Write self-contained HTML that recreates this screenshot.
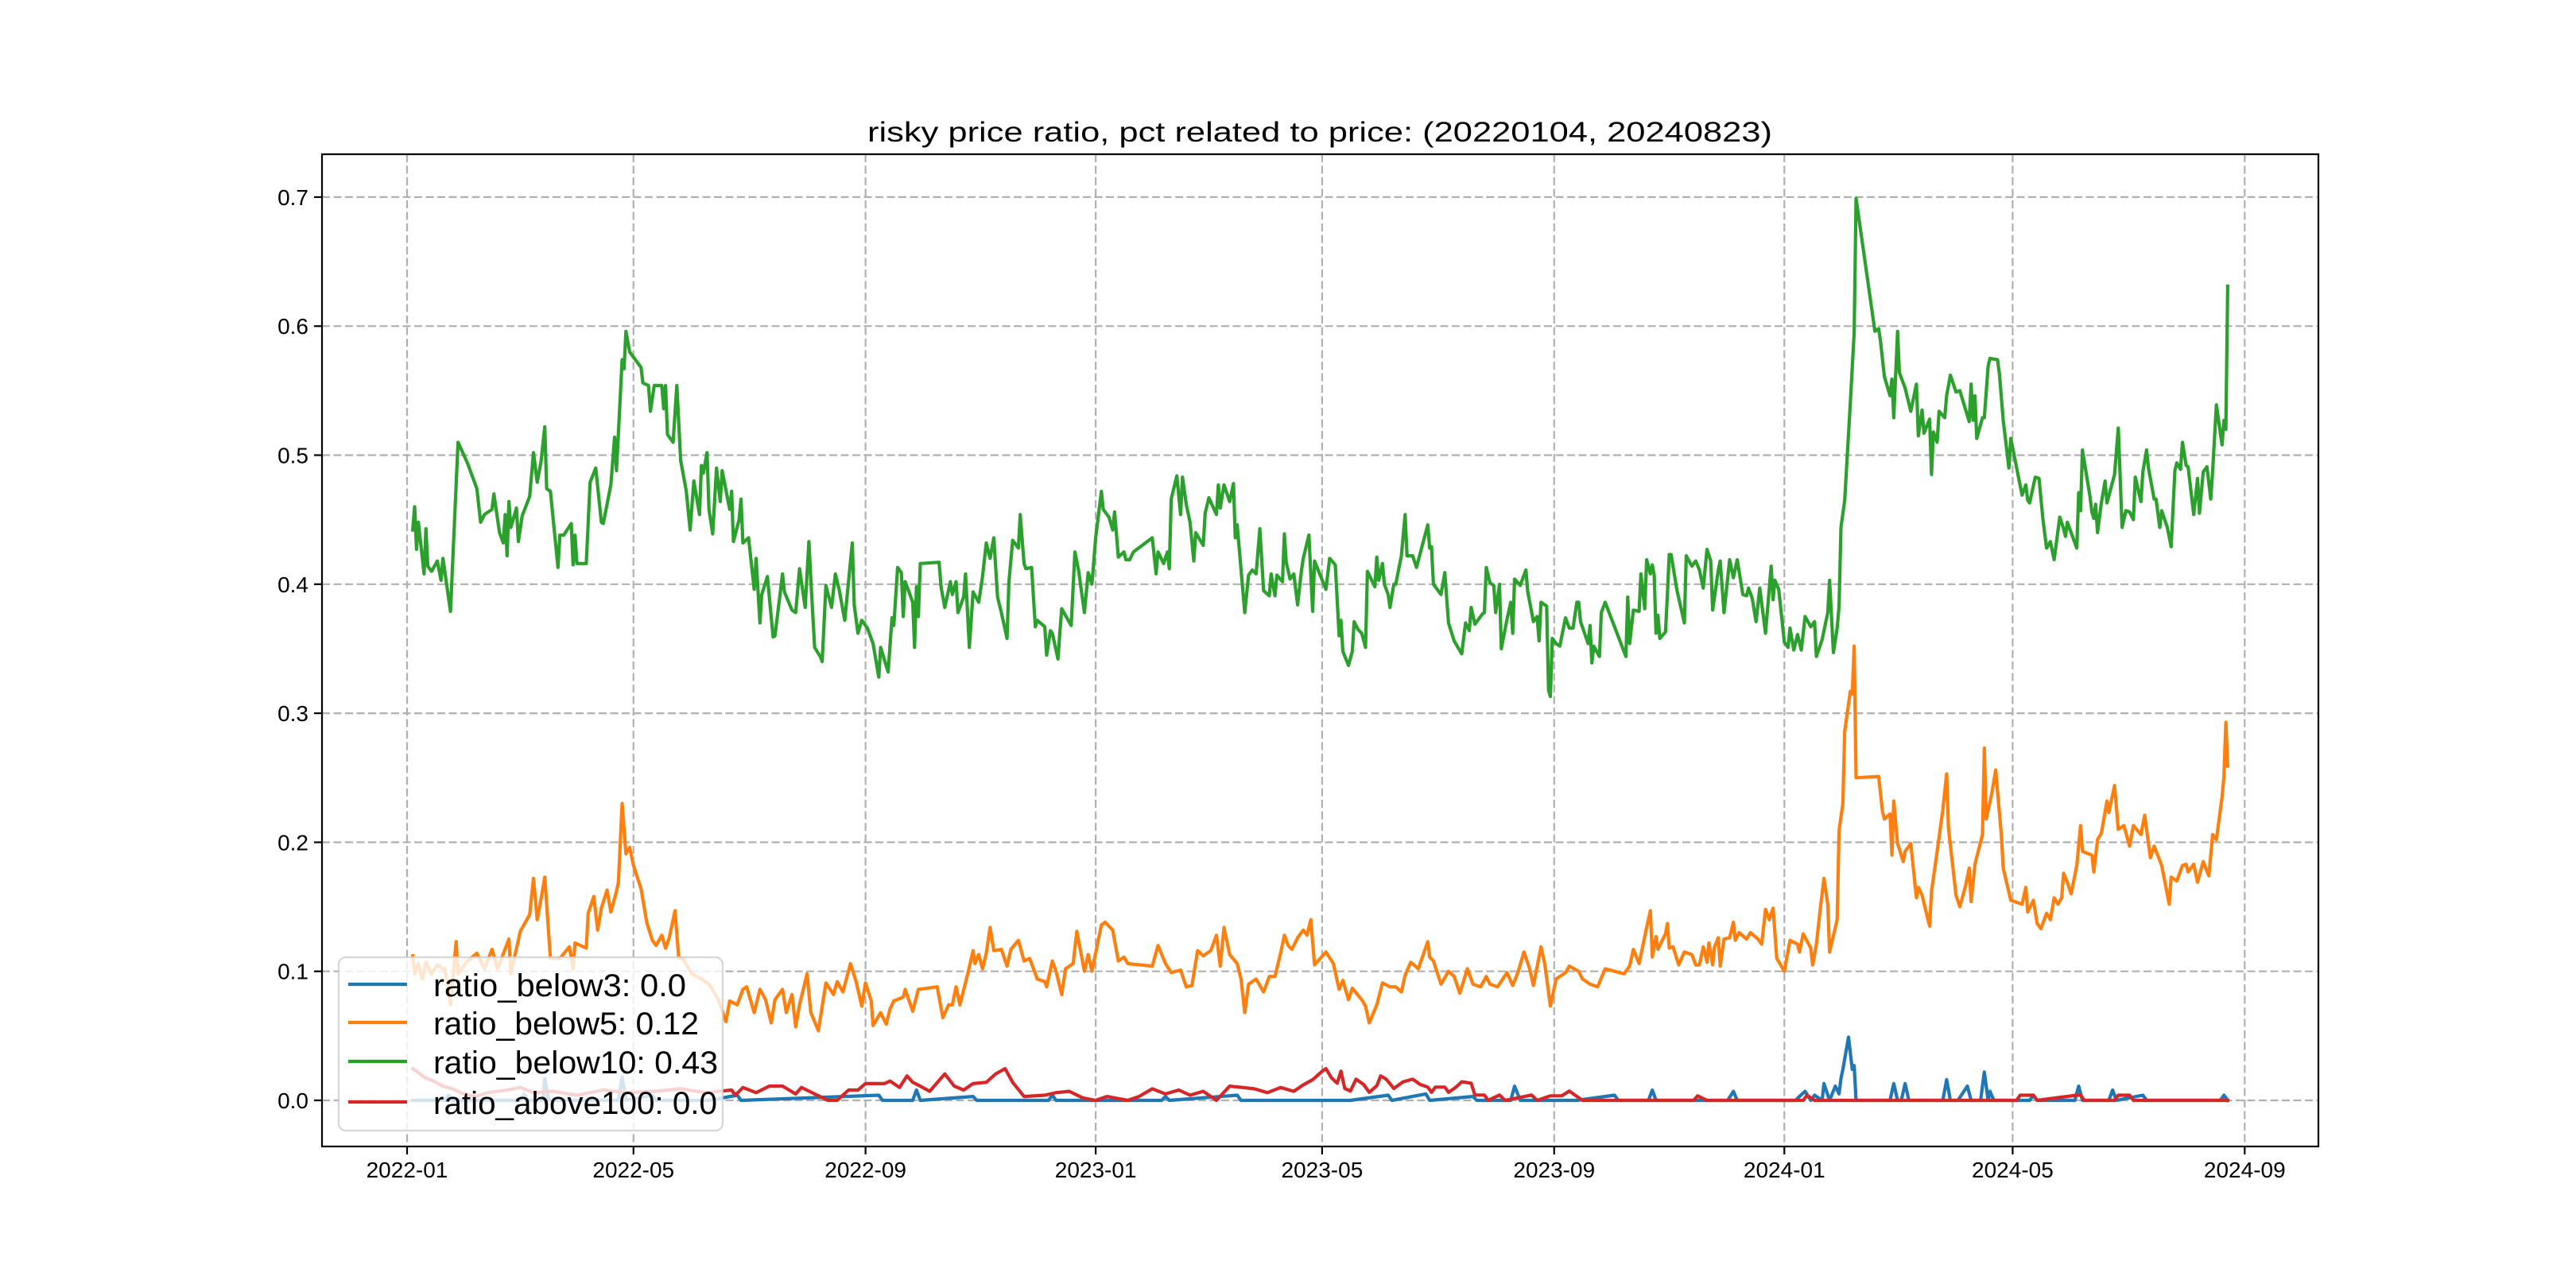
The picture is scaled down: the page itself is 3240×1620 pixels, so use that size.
<!DOCTYPE html>
<html>
<head>
<meta charset="utf-8">
<style>
  html,body{margin:0;padding:0;background:#fff;}
  svg{display:block;}
  text{font-family:"WenQuanYi Zen Hei","Liberation Sans","Noto Sans CJK SC",sans-serif;fill:#000;}
</style>
</head>
<body>
<svg id="chart" xmlns="http://www.w3.org/2000/svg" width="3240" height="1620" viewBox="0 0 3240 1620">
  <rect x="0" y="0" width="3240" height="1620" fill="#ffffff"/>
  <text x="1660" y="178" font-size="35" text-anchor="middle" textLength="1138" lengthAdjust="spacingAndGlyphs">risky price ratio, pct related to price: (20220104, 20240823)</text>
  <g id="grid"></g>
  <g id="series"></g>
  <g id="axes"></g>
  <g id="legend"></g>
</svg>
<script>
// ---- chart data (x = days since 2022-01-01) ----
const xTickDays = [0,120,243,365,485,608,730,851,974];
const xTickLabels = ["2022-01","2022-05","2022-09","2023-01","2023-05","2023-09","2024-01","2024-05","2024-09"];
const yTickValues = [0,0.1,0.2,0.3,0.4,0.5,0.6,0.7];
const yTickLabels = ["0.0","0.1","0.2","0.3","0.4","0.5","0.6","0.7"];
const seriesNames = ["ratio_below3: 0.0","ratio_below5: 0.12","ratio_below10: 0.43","ratio_above100: 0.0"];
const seriesColors = ["#1f77b4","#ff7f0e","#2ca02c","#d62728"];

const below10Days = [3,4,5,6,9,10,11,13,16,18,19,23,27,32,37,39,41,45,46,49,51,52,53,54,55,58,59,61,65,67,69,71,73,74,76,80,81,83,87,88,89,90,95,97,100,103,104,108,110,111,114,115,116,118,124,125,128,129,131,135,136,137,138,141,143,145,148,150,152,155,156,157,159,160,162,164,166,167,171,172,173,176,177,178,181,184,185,187,188,191,194,195,198,199,200,204,206,208,211,213,214,216,219,220,222,225,227,229,232,236,237,239,241,244,247,250,251,255,257,258,260,262,263,264,268,269,270,271,272,282,283,285,288,289,291,292,295,296,298,300,303,305,307,
309,311,313,315,318,319,321,324,325,327,328,331,333,334,338,339,341,342,345,346,347,352,354,356,359,361,363,365,368,369,372,374,375,377,380,381,383,385,395,397,398,401,403,404,405,408,410,411,413,415,417,418,422,423,425,429,430,431,433,436,438,439,440,444,446,448,450,452,454,457,458,460,461,464,465,466,468,470,472,474,475,478,480,481,487,489,492,494,495,496,499,501,502,504,506,508,509,513,514,515,517,518,520,521,523,524,527,529,530,533,535,541,542,543,544,548,550,552,555,559,561,563,564,566,570,571,572,574,576,577,579,580,583,585,586,587,590,593,594,597,599,600,601,604,605,606,607,609,611,614,616,618,620,621,622,626,627,628,629,632,633,635,646,647,648,650,653,654,656,657,
659,660,661,662,663,664,667,668,669,670,673,677,678,681,683,685,687,689,691,692,695,696,698,701,703,705,708,710,711,713,715,717,720,723,724,725,727,730,732,733,735,737,739,741,744,746,747,750,753,754,756,758,759,760,762,765,767,768,778,780,781,783,786,787,788,790,791,794,797,800,801,803,804,807,808,809,811,812,815,816,818,821,823,828,829,830,831,832,835,836,838,839,843,844,846,849,850,856,858,859,860,863,865,867,869,871,873,876,878,879,880,885,886,887,888,892,893,894,895,896,898,900,901,905,907,909,911,913,915,916,919,920,922,923,926,927,929,930,933,935,937,938,940,941,943,944,947,949,950,952,954,956,957,959,962,963,964,965];
const below10Values = [.442,.46,.427,.448,.408,.443,.414,.41,.418,.403,.42,.379,.51,.494,.474,.448,.454,.458,.47,.44,.432,.454,.422,.464,.444,.459,.433,.453,.468,.502,.479,.495,.522,.474,.472,.413,.438,.438,.447,.415,.438,.416,.416,.479,.49,.448,.447,.477,.514,.488,.574,.567,.596,.58,.568,.556,.554,.534,.554,.554,.536,.554,.516,.51,.554,.496,.472,.442,.48,.454,.492,.486,.502,.458,.439,.49,.464,.488,.458,.472,.433,.45,.466,.432,.436,.396,.42,.37,.392,.406,.359,.36,.396,.408,.394,.38,.378,.412,.382,.433,.404,.351,.344,.34,.399,.382,.408,.396,.372,.432,.384,.362,.372,.366,.354,.328,.351,.332,.374,.368,.413,.409,.375,.402,.386,.351,.398,.375,.416,.417,.398,.382,.402,.392,.402,.378,.39,.408,.351,.394,.386,.406,.432,
.42,.436,.39,.378,.358,.402,.434,.428,.454,.416,.412,.413,.367,.372,.367,.345,.364,.362,.342,.363,.381,.368,.425,.41,.378,.409,.4,.436,.472,.458,.452,.442,.456,.421,.425,.419,.419,.425,.436,.408,.425,.416,.425,.412,.466,.484,.454,.483,.462,.448,.418,.44,.43,.455,.467,.454,.477,.459,.477,.464,.478,.436,.446,.378,.407,.411,.408,.443,.395,.391,.408,.391,.407,.402,.439,.417,.404,.408,.384,.41,.42,.438,.379,.418,.396,.42,.415,.36,.372,.348,.337,.348,.371,.365,.362,.351,.41,.398,.421,.403,.416,.4,.392,.382,.4,.4,.422,.454,.422,.422,.413,.446,.428,.429,.4,.392,.409,.37,.356,.346,.37,.364,.382,.369,.377,.378,.413,.401,.399,.378,.4,.35,.373,.386,.362,.404,.399,.411,.394,.371,.375,.356,.386,.383,.318,.313,.358,.354,.352,.374,.366,.366,.386,.386,.371,.354,.368,.339,.352,.344,.378,.386,.344,.39,.354,.38,.379,.408,.381,.419,.408,
.415,.407,.362,.376,.358,.363,.392,.423,.423,.396,.370,.422,.414,.418,.411,.397,.427,.418,.380,.411,.418,.378,.419,.405,.419,.392,.391,.397,.389,.371,.397,.362,.414,.388,.403,.396,.355,.351,.366,.349,.361,.349,.375,.367,.371,.344,.357,.378,.403,.347,.366,.383,.444,.465,.541,.595,.699,.596,.598,.588,.561,.546,.559,.529,.596,.564,.552,.534,.555,.515,.535,.517,.528,.485,.518,.510,.534,.529,.546,.562,.549,.550,.526,.555,.527,.546,.513,.529,.529,.569,.575,.574,.563,.527,.490,.513,.469,.477,.465,.463,.483,.482,.451,.428,.433,.419,.452,.443,.437,.448,.428,.471,.457,.504,.468,.456,.451,.462,.44,.463,.48,.463,.485,.521,.444,.457,.456,.45,.483,.464,.487,.504,.49,.466,.466,.444,.457,.444,.429,.488,.494,.489,.510,.492,.491,.454,.482,.455,.487,.491,.466,.488,.539,.508,.527,.520,.631,.548];

const below5Days = [3,4,6,8,10,13,16,19,20,23,26,27,32,37,41,45,48,54,55,60,65,67,69,71,73,76,81,86,88,89,95,96,99,101,103,106,108,111,112,114,116,118,120,124,127,130,132,135,137,139,142,144,146,151,156,160,165,169,171,175,178,180,184,187,190,193,195,199,201,204,206,208,212,214,218,222,226,228,231,235,238,241,243,246,247,251,254,256,258,263,264,268,271,281,284,287,289,291,293,297,300,301,303,305,307,
309,311,315,318,320,324,327,330,334,338,339,342,344,347,349,353,355,359,361,363,368,370,374,377,380,382,395,398,402,405,410,413,416,419,422,426,429,431,433,436,440,442,444,446,450,454,457,460,463,465,467,469,472,475,477,479,481,487,491,494,496,499,501,506,508,510,514,517,521,524,527,529,532,536,541,542,544,548,552,555,558,562,565,569,572,574,578,583,586,589,592,595,597,601,603,606,609,614,616,621,623,627,631,635,645,648,650,653,657,
659,660,662,663,667,668,669,671,674,677,681,683,685,687,689,690,692,693,695,696,698,701,703,704,706,710,712,716,718,720,722,724,726,730,733,737,738,740,744,745,747,749,751,753,754,758,759,761,762,765,766,767,768,780,782,783,786,787,788,790,793,794,797,800,801,803,807,808,811,814,816,817,821,823,826,828,829,831,835,836,837,840,842,845,846,850,856,858,859,862,864,866,869,871,873,875,877,878,880,882,885,887,888,893,894,896,898,901,902,905,907,910,913,915,919,921,924,926,930,934,935,938,941,943,944,947,949,952,955,957,959,962,963,964,965];
const below5Values = [.112,.098,.106,.094,.107,.098,.105,.102,.102,.074,.123,.098,.108,.114,.102,.117,.102,.125,.098,.131,.144,.172,.14,.156,.173,.11,.11,.119,.102,.122,.118,.145,.158,.132,.149,.163,.146,.162,.169,.23,.191,.196,.182,.164,.138,.124,.12,.128,.118,.126,.147,.11,.11,.098,.094,.09,.078,.061,.077,.074,.086,.088,.068,.086,.078,.06,.078,.086,.068,.082,.057,.074,.098,.068,.054,.091,.082,.092,.084,.106,.092,.073,.091,.077,.058,.068,.059,.071,.077,.08,.086,.069,.086,.088,.064,.074,.074,.088,.074,.097,.116,.106,.113,.102,.114,
.134,.116,.117,.104,.117,.124,.108,.11,.094,.092,.088,.108,.1,.082,.102,.106,.131,.1,.113,.1,.136,.138,.132,.108,.111,.106,.104,.12,.106,.099,.101,.088,.089,.116,.112,.116,.128,.104,.134,.113,.106,.094,.068,.09,.094,.084,.096,.096,.114,.128,.12,.117,.126,.132,.128,.14,.105,.115,.106,.086,.093,.078,.087,.078,.073,.06,.074,.091,.088,.088,.084,.097,.107,.102,.123,.111,.108,.09,.1,.096,.083,.102,.09,.088,.096,.09,.088,.099,.089,.1,.115,.102,.089,.119,.106,.073,.094,.099,.104,.1,.094,.09,.088,.102,.098,.104,.117,.106,.134,
.147,.111,.127,.117,.129,.137,.118,.119,.105,.115,.113,.105,.105,.119,.107,.122,.105,.119,.126,.104,.125,.126,.138,.124,.13,.125,.13,.125,.121,.148,.14,.149,.110,.10,.124,.121,.115,.129,.118,.105,.121,.148,.172,.152,.115,.140,.209,.230,.286,.317,.315,.352,.250,.251,.224,.218,.222,.190,.232,.199,.185,.193,.199,.157,.165,.159,.135,.162,.193,.225,.253,.211,.159,.150,.166,.180,.154,.183,.206,.273,.218,.238,.256,.206,.180,.155,.152,.165,.146,.155,.137,.133,.145,.140,.157,.152,.157,.176,.169,.160,.182,.213,.193,.190,.177,.202,.207,.232,.223,.244,.210,.213,.197,.213,.206,.221,.188,.197,.182,.152,.173,.170,.182,.183,.177,.183,.169,.185,.174,.206,.202,.235,.251,.293,.259];

const below3Days = [3,20,22,24,60,62,64,72,73,75,112,114,116,130,132,160,175,177,250,252,268,270,272,300,302,340,342,344,400,402,404,440,442,500,520,522,540,542,565,567,585,587,590,620,640,642,658,660,662,700,703,705,736,738,741,744,746,750,751,754,757,759,760,761,764,766,767,768,786,788,790,792,794,796,814,816,818,822,827,829,834,836,838,839,841,860,862,864,884,886,888,902,904,906,920,922,961,963,965];
const below3Values = [0,0,.004,0,0,.005,0,0,.017,0,0,.018,0,.004,0,0,.004,0,.004,0,0,.008,0,.003,0,0,.004,0,0,.003,0,.004,0,0,.004,0,.005,0,.003,0,0,.011,0,0,.004,0,0,.008,0,0,.007,0,0,.003,.007,0,.004,0,.013,0,.011,.005,.017,.024,.049,.024,.027,0,0,.013,0,0,.013,0,0,.016,0,0,.011,0,0,.022,0,.007,0,0,.004,0,0,.011,0,0,.008,0,.004,0,0,.004,0];

const above100Days = [3,6,9,14,19,24,30,36,43,53,60,67,77,90,104,117,131,145,158,172,174,178,185,192,199,206,209,216,223,228,234,239,243,253,256,261,265,268,272,277,285,290,295,300,307,312,317,321,327,338,344,351,358,365,371,382,388,395,402,409,415,422,429,436,443,449,456,463,470,475,480,485,487,490,493,495,497,500,503,507,510,514,516,519,523,528,533,537,541,543,545,550,552,556,559,564,566,571,573,579,582,596,599,606,612,616,619,623,682,684,689,740,742,746,853,855,862,864,885,887,889,905,907,913,915,965];
const above100Values = [.0246,.0215,.018,.015,.011,.009,.005,.003,.006,.008,.010,.006,.007,.004,.008,.006,.007,.009,.006,.008,.004,.010,.006,.011,.011,.005,.010,.005,0,0,.008,.008,.013,.013,.015,.010,.019,.014,.011,.007,.0205,.011,.008,.013,.014,.0205,.0246,.014,.003,.004,.006,.007,.002,0,.003,0,.003,.009,.005,.008,.004,.007,0,.011,.010,.009,.006,.010,.007,.012,.016,.0225,.0246,.0174,.0133,.0226,.0092,.0072,.0164,.0123,.0062,.0113,.019,.0164,.0092,.0144,.0164,.0123,.0103,.0062,.0103,.0103,.0062,.0103,.0144,.0133,.0041,.0041,0,.0041,0,.0041,0,.0035,.0035,.0072,.0041,0,0,.0035,0,0,.004,0,0,.004,.004,0,.004,.004,0,0,.004,.004,0,0];

// ---- axes geometry ----
const PL = 405, PR = 2916, PT = 194, PB = 1442;
const X0 = 512, XPD = 2.373;      // px of day 0, px per day
const Y0 = 1384, YPU = 1623;      // px of value 0, px per unit
function xScale(d){ return X0 + d * XPD; }
function yScale(v){ return Y0 - v * YPU; }

const NS = "http://www.w3.org/2000/svg";
function mk(tag, attrs, parent){
  const el = document.createElementNS(NS, tag);
  for (const k in attrs) el.setAttribute(k, attrs[k]);
  parent.appendChild(el);
  return el;
}
const grid = document.getElementById('grid');
const series = document.getElementById('series');
const axes = document.getElementById('axes');
const legend = document.getElementById('legend');

// grid lines
xTickDays.forEach((d, i) => {
  const x = xScale(d);
  const l = mk('line', {x1:x, x2:x, y1:PT, y2:PB, stroke:'#b0b0b0', 'stroke-width':2.2, 'stroke-dasharray':'10,4.5'}, grid);
  
  
});
yTickValues.forEach((v, i) => {
  const y = yScale(v);
  const l = mk('line', {x1:PL, x2:PR, y1:y, y2:y, stroke:'#b0b0b0', 'stroke-width':2.2, 'stroke-dasharray':'10,4.5'}, grid);
  
  
});

// series lines
function drawLine(days, vals, color, name){
  let d = '';
  for (let i = 0; i < days.length && i < vals.length; i++){
    d += (i ? 'L' : 'M') + xScale(days[i]).toFixed(1) + ',' + yScale(vals[i]).toFixed(1);
  }
  const p = mk('path', {d:d, fill:'none', stroke:color, 'stroke-width':4.2, 'stroke-linejoin':'round', 'stroke-linecap':'square'}, series);
  
  
}
drawLine(below3Days, below3Values, seriesColors[0], 'line-ratio-below3');
drawLine(below5Days, below5Values, seriesColors[1], 'line-ratio-below5');
drawLine(below10Days, below10Values, seriesColors[2], 'line-ratio-below10');
drawLine(above100Days, above100Values, seriesColors[3], 'line-ratio-above100');

// frame
const frame = mk('rect', {x:PL, y:PT, width:PR-PL, height:PB-PT, fill:'none', stroke:'#000', 'stroke-width':2.2}, axes);



// x ticks
xTickDays.forEach((d, i) => {
  const x = xScale(d);
  const t = mk('line', {x1:x, x2:x, y1:PB, y2:PB+10, stroke:'#000', 'stroke-width':2.2}, axes);
  
  
  const lb = mk('text', {x:x, y:PB+39, 'font-size':28, 'text-anchor':'middle'}, axes);
  lb.textContent = xTickLabels[i];
  
  
});
// y ticks
yTickValues.forEach((v, i) => {
  const y = yScale(v);
  const t = mk('line', {x1:PL-10, x2:PL, y1:y, y2:y, stroke:'#000', 'stroke-width':2.2}, axes);
  
  
  const lb = mk('text', {x:PL-17, y:y+10, 'font-size':28, 'text-anchor':'end'}, axes);
  lb.textContent = yTickLabels[i];
  
  
});

// legend
const box = mk('rect', {x:426, y:1204, width:483, height:218, rx:9, fill:'#ffffff', 'fill-opacity':0.8, stroke:'#cccccc', 'stroke-opacity':0.8, 'stroke-width':2.2}, legend);


const rowY = [1238, 1286, 1335, 1386];
const textLens = [318, 334, 358, 357];
seriesNames.forEach((n, i) => {
  const h = mk('line', {x1:438, x2:512, y1:rowY[i], y2:rowY[i], stroke:seriesColors[i], 'stroke-width':4.2}, legend);
  
  
  const t = mk('text', {x:545, y:rowY[i]+15, 'font-size':40, textLength:textLens[i], lengthAdjust:'spacingAndGlyphs'}, legend);
  t.textContent = n;
  
  
});
</script>
</body>
</html>
